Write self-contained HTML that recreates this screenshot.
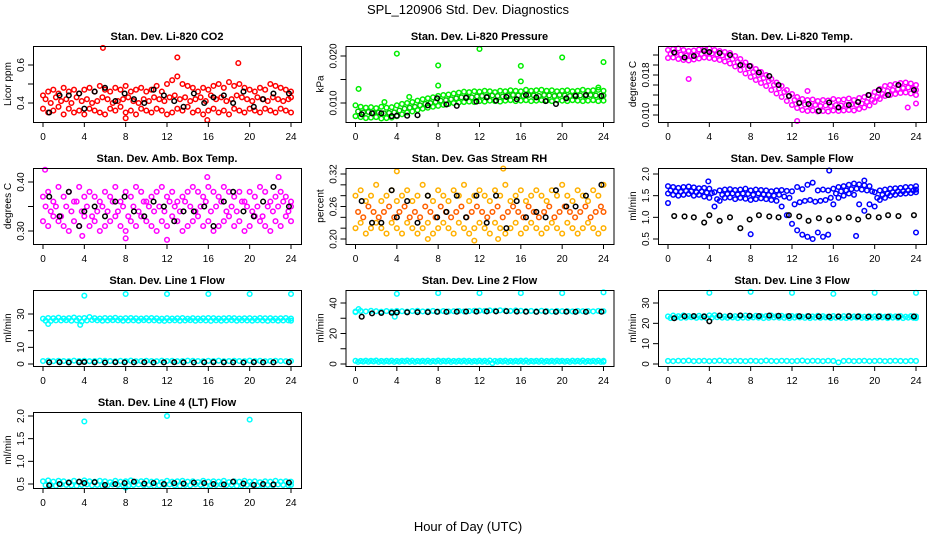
<!DOCTYPE html>
<html><head><meta charset="utf-8"><style>
html,body{margin:0;padding:0;background:#fff}
svg{display:block;font-family:"Liberation Sans",Arial,sans-serif}
</style></head><body>
<svg id="chart" width="936" height="540" viewBox="0 0 936 540" xmlns="http://www.w3.org/2000/svg">
<text x="468" y="14" font-size="13" text-anchor="middle">SPL_120906  Std. Dev. Diagnostics</text>
<text x="468" y="531" font-size="13" text-anchor="middle">Hour of Day (UTC)</text>
</svg>
<script>
// ---- data ----
const xTicks=[0,4,8,12,16,20,24];
const kHours=[0.6,1.6,2.5,3.5,4.0,5.0,6.0,7.0,7.9,8.8,9.8,10.7,11.7,12.7,13.6,14.6,15.6,16.5,17.5,18.4,19.4,20.4,21.3,22.3,23.8];
// CO2
const co2Hi=[0.44,0.46,0.47,0.45,0.48,0.46,0.47,0.45,0.47,0.48,0.46,0.49,0.47,0.46,0.48,0.47,0.49,0.46,0.47,0.48,0.46,0.47,0.49,0.46,0.50,0.52,0.54,0.50,0.49,0.48,0.46,0.48,0.47,0.49,0.50,0.48,0.51,0.49,0.50,0.48,0.47,0.46,0.48,0.47,0.50,0.49,0.48,0.47,0.46];
const co2Mid=[0.42,0.40,0.43,0.41,0.42,0.40,0.43,0.41,0.42,0.40,0.41,0.43,0.42,0.40,0.41,0.42,0.43,0.41,0.40,0.42,0.41,0.43,0.42,0.41,0.43,0.44,0.42,0.43,0.41,0.42,0.43,0.41,0.44,0.42,0.43,0.41,0.42,0.44,0.43,0.42,0.41,0.43,0.42,0.41,0.43,0.42,0.41,0.42,0.43];
const co2Lo=[0.37,0.35,0.36,0.38,0.34,0.37,0.35,0.36,0.34,0.37,0.36,0.35,0.34,0.37,0.36,0.38,0.35,0.36,0.34,0.37,0.36,0.35,0.37,0.36,0.34,0.35,0.37,0.36,0.38,0.35,0.36,0.34,0.36,0.37,0.35,0.36,0.34,0.37,0.36,0.35,0.37,0.36,0.35,0.37,0.36,0.35,0.37,0.36,0.35];
const co2K=[0.35,0.44,0.44,0.45,0.37,0.46,0.48,0.41,0.45,0.42,0.40,0.47,0.44,0.41,0.38,0.45,0.40,0.43,0.44,0.40,0.46,0.38,0.42,0.45,0.45];
const co2OutX=[5.8,13,18.9,8,15.9], co2OutY=[0.69,0.64,0.61,0.32,0.31];
// Pressure
const prHi=[0.0095,0.0092,0.0090,0.0091,0.0089,0.0092,0.0090,0.0091,0.0095,0.0098,0.0100,0.0102,0.0105,0.0108,0.0110,0.0112,0.0115,0.0117,0.0118,0.0120,0.0122,0.0124,0.0123,0.0125,0.0124,0.0126,0.0125,0.0123,0.0126,0.0125,0.0127,0.0126,0.0125,0.0128,0.0126,0.0127,0.0128,0.0126,0.0127,0.0125,0.0126,0.0127,0.0125,0.0126,0.0128,0.0126,0.0127,0.0128,0.0126];
const prMid=[0.0082,0.0080,0.0081,0.0079,0.0080,0.0078,0.0079,0.0080,0.0084,0.0088,0.0090,0.0092,0.0095,0.0098,0.0100,0.0102,0.0105,0.0106,0.0108,0.0110,0.0112,0.0113,0.0112,0.0114,0.0115,0.0114,0.0116,0.0115,0.0114,0.0116,0.0117,0.0116,0.0115,0.0117,0.0116,0.0115,0.0117,0.0116,0.0115,0.0117,0.0116,0.0115,0.0117,0.0116,0.0115,0.0117,0.0116,0.0115,0.0116];
const prLo=[0.0072,0.0070,0.0068,0.0069,0.0070,0.0067,0.0068,0.0069,0.0072,0.0076,0.0080,0.0082,0.0085,0.0088,0.0090,0.0092,0.0094,0.0096,0.0098,0.0100,0.0101,0.0102,0.0103,0.0102,0.0104,0.0103,0.0105,0.0104,0.0103,0.0105,0.0106,0.0104,0.0105,0.0106,0.0104,0.0105,0.0106,0.0105,0.0104,0.0106,0.0105,0.0104,0.0106,0.0105,0.0104,0.0105,0.0106,0.0104,0.0105];
const prK=[0.0076,0.0078,0.0078,0.0072,0.0073,0.0073,0.0074,0.0095,0.0110,0.0097,0.0094,0.0111,0.0103,0.0112,0.0105,0.0113,0.0108,0.0117,0.0112,0.0104,0.0098,0.0110,0.0115,0.0117,0.0115];
const prOutX=[0.3,4,5.2,8,8,12,16,16,20,24,23.5,2.8], prOutY=[0.0130,0.0205,0.0113,0.018,0.0137,0.0215,0.0179,0.0146,0.0197,0.0187,0.0133,0.0102];
// Li-820 temp
const ltHi=[0.0230,0.0232,0.0233,0.0230,0.0228,0.0229,0.0231,0.0232,0.0233,0.0230,0.0228,0.0226,0.0224,0.0218,0.0212,0.0205,0.0198,0.0192,0.0186,0.0180,0.0172,0.0165,0.0158,0.0150,0.0142,0.0136,0.0132,0.0130,0.0131,0.0128,0.0130,0.0129,0.0132,0.0130,0.0131,0.0133,0.0130,0.0134,0.0136,0.0140,0.0146,0.0152,0.0158,0.0160,0.0162,0.0164,0.0165,0.0163,0.0160];
const ltMid=[0.0222,0.0224,0.0221,0.0219,0.0218,0.0220,0.0222,0.0224,0.0223,0.0221,0.0219,0.0216,0.0212,0.0206,0.0200,0.0193,0.0186,0.0180,0.0174,0.0168,0.0160,0.0153,0.0146,0.0138,0.0130,0.0125,0.0121,0.0119,0.0120,0.0118,0.0119,0.0118,0.0120,0.0119,0.0120,0.0121,0.0120,0.0123,0.0126,0.0130,0.0136,0.0142,0.0148,0.0150,0.0152,0.0154,0.0155,0.0153,0.0150];
const ltLo=[0.0214,0.0215,0.0212,0.0210,0.0209,0.0211,0.0213,0.0215,0.0214,0.0212,0.0210,0.0207,0.0203,0.0197,0.0190,0.0183,0.0176,0.0170,0.0164,0.0158,0.0150,0.0143,0.0136,0.0128,0.0120,0.0114,0.0110,0.0108,0.0109,0.0107,0.0108,0.0107,0.0109,0.0108,0.0109,0.0110,0.0109,0.0112,0.0115,0.0119,0.0126,0.0132,0.0138,0.0140,0.0142,0.0144,0.0145,0.0143,0.0140];
const ltK=[0.0225,0.0215,0.0218,0.0228,0.0226,0.0224,0.0220,0.0200,0.0198,0.0185,0.0178,0.0160,0.0138,0.0124,0.0122,0.0108,0.0125,0.0115,0.0120,0.0126,0.0140,0.0150,0.0140,0.0160,0.0150];
const ltOutX=[2,13.5,12.5,23.2,24], ltOutY=[0.0172,0.0148,0.0088,0.0115,0.0123];
// Amb box temp
const abHi=[0.37,0.38,0.36,0.39,0.37,0.38,0.36,0.39,0.37,0.38,0.37,0.36,0.38,0.37,0.39,0.36,0.38,0.37,0.39,0.38,0.36,0.37,0.38,0.39,0.37,0.38,0.36,0.37,0.38,0.39,0.38,0.37,0.39,0.38,0.37,0.39,0.38,0.37,0.38,0.36,0.38,0.37,0.39,0.38,0.36,0.37,0.38,0.37,0.36];
const abMid=[0.35,0.34,0.35,0.33,0.35,0.34,0.36,0.34,0.35,0.33,0.34,0.35,0.34,0.36,0.34,0.35,0.33,0.35,0.34,0.36,0.35,0.34,0.35,0.34,0.36,0.35,0.34,0.36,0.35,0.34,0.35,0.36,0.34,0.35,0.36,0.34,0.35,0.34,0.36,0.35,0.34,0.35,0.33,0.35,0.34,0.35,0.36,0.34,0.35];
const abLo=[0.32,0.31,0.33,0.32,0.31,0.30,0.32,0.31,0.33,0.31,0.32,0.30,0.31,0.32,0.33,0.31,0.30,0.32,0.31,0.33,0.32,0.31,0.30,0.32,0.31,0.33,0.32,0.30,0.31,0.32,0.33,0.31,0.32,0.30,0.31,0.32,0.33,0.31,0.32,0.30,0.31,0.33,0.32,0.31,0.30,0.32,0.31,0.33,0.32];
const abK=[0.37,0.33,0.38,0.31,0.34,0.35,0.33,0.36,0.37,0.34,0.33,0.36,0.35,0.32,0.34,0.34,0.35,0.31,0.36,0.38,0.34,0.33,0.36,0.39,0.35];
const abOutX=[0.2,15.9,12,3.8,22.8,8], abOutY=[0.425,0.41,0.282,0.29,0.41,0.285];
// Gas stream RH
const rhHi=[0.28,0.29,0.27,0.28,0.30,0.27,0.28,0.29,0.27,0.28,0.29,0.27,0.28,0.30,0.28,0.27,0.29,0.28,0.27,0.29,0.28,0.30,0.27,0.28,0.29,0.28,0.27,0.29,0.28,0.30,0.27,0.28,0.29,0.27,0.28,0.29,0.28,0.27,0.29,0.28,0.30,0.28,0.27,0.29,0.28,0.27,0.29,0.28,0.30];
const rhMid=[0.25,0.24,0.26,0.25,0.24,0.25,0.26,0.24,0.25,0.26,0.24,0.25,0.24,0.26,0.25,0.24,0.26,0.25,0.24,0.25,0.26,0.24,0.25,0.26,0.25,0.24,0.25,0.26,0.24,0.25,0.26,0.25,0.24,0.26,0.25,0.24,0.25,0.26,0.24,0.25,0.26,0.25,0.24,0.25,0.26,0.24,0.25,0.26,0.25];
const rhLo=[0.22,0.23,0.21,0.22,0.23,0.22,0.21,0.23,0.22,0.21,0.23,0.22,0.21,0.22,0.23,0.21,0.22,0.23,0.22,0.21,0.23,0.22,0.21,0.22,0.23,0.22,0.21,0.23,0.22,0.21,0.22,0.23,0.21,0.22,0.23,0.22,0.21,0.22,0.23,0.22,0.21,0.23,0.22,0.21,0.22,0.23,0.22,0.21,0.22];
const rhK=[0.27,0.23,0.23,0.29,0.24,0.27,0.23,0.28,0.24,0.25,0.28,0.24,0.28,0.23,0.28,0.22,0.27,0.24,0.25,0.24,0.29,0.26,0.26,0.28,0.30];
const rhOutX=[4,14.3,11.5,13.8,7], rhOutY=[0.325,0.33,0.197,0.20,0.20];
// Sample flow
const sfHi=[1.72,1.70,1.68,1.70,1.71,1.69,1.67,1.68,1.66,1.58,1.62,1.64,1.65,1.63,1.64,1.66,1.62,1.64,1.63,1.62,1.60,1.62,1.63,1.61,1.60,1.70,1.65,1.75,1.80,1.62,1.64,1.62,1.66,1.70,1.72,1.75,1.78,1.76,1.74,1.72,1.58,1.62,1.64,1.66,1.67,1.68,1.70,1.70,1.72];
const sfMid=[1.62,1.60,1.59,1.61,1.60,1.58,1.60,1.57,1.56,1.42,1.52,1.54,1.55,1.53,1.55,1.54,1.52,1.55,1.53,1.52,1.50,1.52,1.48,1.45,1.30,1.35,1.38,1.40,1.36,1.38,1.40,1.45,1.55,1.60,1.62,1.65,1.66,1.64,1.62,1.60,1.45,1.52,1.55,1.58,1.60,1.60,1.62,1.62,1.64];
const sfLo=[1.55,1.52,1.50,1.52,1.54,1.50,1.52,1.48,1.45,1.25,1.38,1.45,1.46,1.42,1.45,1.43,1.40,1.42,1.44,1.42,1.40,1.38,1.25,1.05,0.85,0.70,0.60,0.55,0.50,0.65,0.55,0.60,1.30,1.45,1.50,1.55,1.52,1.30,1.15,1.30,1.25,1.40,1.45,1.50,1.52,1.54,1.55,1.56,1.58];
const sfK=[1.03,1.02,1.00,0.88,1.05,0.92,1.00,0.75,0.95,1.05,1.02,1.00,1.05,1.02,0.92,0.98,0.93,0.98,1.00,0.95,1.02,1.00,1.05,1.03,1.05];
const sfOutX=[0,3.9,8,15.6,18.2,24,19], sfOutY=[1.33,1.83,0.61,2.08,0.57,0.65,1.85];
// Line 1
const l1Hi=[27.2,27.6,27.4,27.8,27.3,27.5,27.9,27.4,27.6,28.2,27.5,27.3,27.6,27.4,27.7,27.3,27.5,27.6,27.4,27.3,27.5,27.6,27.4,27.2,27.5,27.3,27.4,27.6,27.2,27.5,27.3,27.4,27.6,27.5,27.3,27.4,27.6,27.5,27.3,27.4,27.5,27.3,27.6,27.4,27.5,27.3,27.4,27.6,27.3];
const l1Mid=[26.0,25.8,26.2,26.1,26.3,26.0,26.2,25.5,26.1,26.4,26.2,26.0,26.1,26.3,26.2,26.0,26.1,26.2,26.0,26.3,26.1,26.2,26.0,25.9,26.1,26.2,26.0,26.1,26.3,26.0,26.2,26.1,25.9,26.2,26.0,26.1,26.3,26.0,26.2,26.1,26.0,26.2,26.1,25.9,26.2,26.0,26.1,26.2,26.0];
const l1Lo=[1.8,2.0,1.7,1.9,1.8,1.7,2.0,1.8,1.9,1.7,1.8,2.0,1.9,1.8,1.7,1.9,1.8,2.0,1.7,1.8,1.9,1.8,1.7,2.0,1.8,1.9,1.7,1.8,2.0,1.9,1.8,1.7,1.9,1.8,2.0,1.7,1.8,1.9,1.8,1.7,2.0,1.8,1.9,1.7,1.8,1.9,1.8,1.7,1.8];
const l1K=[1.0,1.1,0.9,1.0,1.2,1.0,0.9,1.1,1.0,1.0,1.1,0.9,1.0,1.1,1.0,0.9,1.0,1.1,1.0,1.0,0.9,1.1,1.0,1.0,1.1];
const l1OutX=[4,8,12,16,20,24,0.5,3.6], l1OutY=[41,42,42,42,42,42,24,23.5];
// Line 2
const l2Hi=[34.4,34.8,34.5,34.9,34.6,34.3,34.7,34.5,34.8,34.6,34.4,34.7,34.9,34.5,34.6,34.8,34.4,34.7,34.5,34.6,34.8,34.5,34.7,34.9,35.0,34.8,35.1,34.9,35.2,35.0,34.8,35.1,34.9,34.7,34.8,34.6,34.9,34.7,34.5,34.8,34.6,34.7,34.5,34.8,34.6,34.7,34.5,34.8,34.6];
const l2Mid=[1.4,1.6,1.5,1.7,1.4,1.5,1.6,1.4,1.5,1.7,1.5,1.4,1.6,1.5,1.4,1.6,1.5,1.7,1.4,1.5,1.6,1.5,1.4,1.6,1.5,1.4,0.6,1.5,1.6,1.4,1.5,1.6,1.5,1.4,1.6,1.5,1.4,1.6,1.5,1.7,1.5,1.4,1.6,1.5,1.4,1.6,1.5,1.4,1.5];
const l2Lo=[2.1,2.0,2.2,2.1,2.3,2.0,2.1,2.2,2.0,2.1,2.3,2.2,2.0,2.1,2.2,2.0,2.3,2.1,2.2,2.0,2.1,2.2,2.1,2.0,2.2,2.1,2.3,2.0,2.1,2.2,2.0,2.1,2.2,2.3,2.0,2.1,2.2,2.0,2.1,2.2,2.1,2.0,2.2,2.1,2.3,2.0,2.1,2.2,2.1];
const l2K=[31.0,33.2,33.5,33.6,33.8,33.9,34.0,34.0,34.2,34.2,34.3,34.4,34.4,34.5,34.5,34.6,34.4,34.3,34.2,34.3,34.2,34.3,34.2,34.2,34.3];
const l2OutX=[4,8,12,16,20,24,0,0.3,3.8], l2OutY=[46,46.5,46.5,46.5,46.5,47,34,36,31];
// Line 3
const l3Hi=[23.4,23.8,23.5,23.9,23.6,23.3,23.7,23.5,23.9,24.0,23.6,23.4,23.7,23.5,23.6,23.8,23.4,23.7,23.5,23.6,23.8,23.5,23.7,23.4,23.6,23.5,23.3,23.6,23.4,23.7,23.5,23.3,23.6,23.4,23.5,23.7,23.4,23.6,23.3,23.5,23.4,23.6,23.3,23.5,23.4,23.6,23.3,23.5,23.4];
const l3Mid=[22.6,22.9,22.7,22.8,23.0,22.7,22.9,22.6,22.8,23.0,22.8,22.7,22.9,22.6,22.8,22.7,22.9,22.8,22.6,22.7,22.9,22.8,22.7,22.6,22.8,22.9,22.7,22.6,22.8,22.7,22.9,22.6,22.8,22.7,22.6,22.8,22.9,22.7,22.6,22.8,22.7,22.9,22.6,22.8,22.7,22.6,22.8,22.7,22.6];
const l3Lo=[1.5,1.4,1.6,1.5,1.7,1.4,1.5,1.6,1.4,1.5,1.7,1.5,1.4,1.6,1.5,1.4,1.6,1.5,1.4,1.7,1.5,1.4,1.6,1.5,1.4,1.5,1.7,1.4,1.6,1.5,1.4,1.6,1.5,0.8,1.5,1.6,1.4,1.5,1.6,1.4,1.5,1.6,1.4,1.5,1.6,1.5,1.4,1.6,1.5];
const l3K=[22.5,23.5,23.6,23.4,21.0,23.8,23.7,23.9,23.7,23.6,23.8,23.7,23.6,23.5,23.5,23.4,23.3,23.4,23.5,23.4,23.3,23.4,23.3,23.3,23.4];
const l3OutX=[4,8,12,16,20,24], l3OutY=[35,35.5,35,34.5,35,35];
// Line 4
const l4Hi=[0.56,0.58,0.55,0.57,0.56,0.54,0.57,0.55,0.58,0.56,0.55,0.57,0.56,0.54,0.57,0.55,0.56,0.58,0.55,0.56,0.57,0.55,0.56,0.54,0.57,0.55,0.56,0.57,0.55,0.56,0.54,0.57,0.55,0.56,0.55,0.57,0.54,0.56,0.55,0.57,0.55,0.56,0.54,0.56,0.55,0.57,0.55,0.56,0.55];
const l4Mid=[0.47,0.48,0.46,0.49,0.48,0.47,0.46,0.48,0.49,0.47,0.48,0.46,0.47,0.49,0.48,0.47,0.46,0.48,0.49,0.47,0.48,0.46,0.47,0.48,0.49,0.47,0.46,0.48,0.47,0.49,0.48,0.46,0.47,0.48,0.49,0.47,0.48,0.46,0.47,0.48,0.49,0.47,0.46,0.48,0.47,0.49,0.48,0.47,0.48];
const l4Lo=[];
const l4K=[0.47,0.50,0.53,0.55,0.52,0.54,0.48,0.50,0.52,0.55,0.51,0.52,0.50,0.52,0.51,0.53,0.52,0.50,0.49,0.55,0.51,0.48,0.50,0.49,0.53];
const l4OutX=[4,12,20,8], l4OutY=[1.88,2.0,1.92,0.42];

const panels=[
 {key:'co2',col:0,row:0,title:'Stan. Dev. Li-820 CO2',ylab:'Licor ppm',y0:0.4,p0:103,y1:0.6,p1:65,ticks:[0.4,0.5,0.6],labels:['0.4','','0.6'],cols:['#ff0000','#ff0000','#ff0000'],s:[co2Hi,co2Mid,co2Lo],k:co2K,ox:co2OutX,oy:co2OutY},
 {key:'pressure',col:1,row:0,title:'Stan. Dev. Li-820 Pressure',ylab:'kPa',y0:0.010,p0:103,y1:0.020,p1:56,ticks:[0.010,0.015,0.020],labels:['0.010','','0.020'],cols:['#00ee00','#00cc00','#00ee00'],s:[prHi,prMid,prLo],k:prK,ox:prOutX,oy:prOutY},
 {key:'li820-temp',col:2,row:0,title:'Stan. Dev. Li-820 Temp.',ylab:'degrees C',y0:0.010,p0:115,y1:0.018,p1:75,ticks:[0.010,0.012,0.014,0.016,0.018,0.020,0.022],labels:['0.010','','','','0.018','',''],cols:['#ff00ff','#ff00ff','#ff00ff'],s:[ltHi,ltMid,ltLo],k:ltK,ox:ltOutX,oy:ltOutY},
 {key:'amb-box-temp',col:0,row:1,title:'Stan. Dev. Amb. Box Temp.',ylab:'degrees C',y0:0.30,p0:231,y1:0.40,p1:182,ticks:[0.30,0.35,0.40],labels:['0.30','','0.40'],cols:['#ff00ff','#ff00ff','#ff00ff'],s:[abHi,abMid,abLo],k:abK,ox:abOutX,oy:abOutY},
 {key:'gas-stream-rh',col:1,row:1,title:'Stan. Dev. Gas Stream RH',ylab:'percent',y0:0.20,p0:239,y1:0.32,p1:174,ticks:[0.20,0.22,0.24,0.26,0.28,0.30,0.32],labels:['0.20','','','0.26','','','0.32'],cols:['#ffb000','#ff6000','#ffb000'],s:[rhHi,rhMid,rhLo],k:rhK,ox:rhOutX,oy:rhOutY},
 {key:'sample-flow',col:2,row:1,title:'Stan. Dev. Sample Flow',ylab:'ml/min',y0:0.5,p0:239,y1:2.0,p1:174,ticks:[0.5,1.0,1.5,2.0],labels:['0.5','1.0','1.5','2.0'],cols:['#0000ff','#0000ff','#0000ff'],s:[sfHi,sfMid,sfLo],k:sfK,ox:sfOutX,oy:sfOutY},
 {key:'line1-flow',col:0,row:2,title:'Stan. Dev. Line 1 Flow',ylab:'ml/min',y0:0,p0:364,y1:30,p1:314,ticks:[0,10,20,30],labels:['0','10','','30'],cols:['#00ffff','#00ffff','#00ffff'],s:[l1Hi,l1Mid,l1Lo],k:l1K,ox:l1OutX,oy:l1OutY},
 {key:'line2-flow',col:1,row:2,title:'Stan. Dev. Line 2 Flow',ylab:'ml/min',y0:0,p0:364,y1:40,p1:303,ticks:[0,10,20,30,40],labels:['0','','20','','40'],cols:['#00ffff','#00ffff','#00ffff'],s:[l2Hi,l2Mid,l2Lo],k:l2K,ox:l2OutX,oy:l2OutY},
 {key:'line3-flow',col:2,row:2,title:'Stan. Dev. Line 3 Flow',ylab:'ml/min',y0:0,p0:364,y1:30,p1:303,ticks:[0,10,20,30],labels:['0','10','20','30'],cols:['#00ffff','#00ffff','#00ffff'],s:[l3Hi,l3Mid,l3Lo],k:l3K,ox:l3OutX,oy:l3OutY},
 {key:'line4-flow',col:0,row:3,title:'Stan. Dev. Line 4 (LT) Flow',ylab:'ml/min',y0:0.5,p0:484,y1:2.0,p1:416,ticks:[0.5,1.0,1.5,2.0],labels:['0.5','1.0','1.5','2.0'],cols:['#00ffff','#00ffff','#00ffff'],s:[l4Hi,l4Mid,l4Lo],k:l4K,ox:l4OutX,oy:l4OutY}
];

const NS='http://www.w3.org/2000/svg';
const svg=document.getElementById('chart');
function mk(tag,attrs,parent){const e=document.createElementNS(NS,tag);for(const a in attrs)e.setAttribute(a,attrs[a]);parent.appendChild(e);return e;}

panels.forEach(p=>{
  const left=33+p.col*312.5, top=46+p.row*122, right=left+268, bottom=top+76;
  const xs=h=>left+10+h*(248/24);
  const ys=v=>p.p0+(v-p.y0)*(p.p1-p.p0)/(p.y1-p.y0);
  const g=mk('g',{},svg);
  
  
  const t=mk('text',{x:(left+right)/2,y:top-6,'font-size':'11','font-weight':'bold','text-anchor':'middle'},g);
  t.textContent=p.title;
  
  
  const yl=mk('text',{x:left-22,y:(top+bottom)/2,'font-size':'10','text-anchor':'middle',transform:`rotate(-90 ${left-22} ${(top+bottom)/2})`},g);
  yl.textContent=p.ylab;
  
  
  const pts=mk('g',{fill:'none','stroke-width':'1.5'},g);
  
  
  p.s.forEach((arr,si)=>{
    arr.forEach((v,i)=>{
      const h=i*0.5+(si===1?0.25:0);
      const c=mk('circle',{cx:xs(Math.min(h,24)),cy:ys(v),r:2.3,stroke:p.cols[si]},pts);
      
      
    });
  });
  p.ox.forEach((h,i)=>{
    const c=mk('circle',{cx:xs(h),cy:ys(p.oy[i]),r:2.3,stroke:p.cols[0]},pts);
    
    
  });
  p.k.forEach((v,i)=>{
    const c=mk('circle',{cx:xs(kHours[i]),cy:ys(v),r:2.3,stroke:'#000'},pts);
    
    
  });
  const b=mk('rect',{x:left+0.5,y:top+0.5,width:268,height:76,fill:'none',stroke:'#000','stroke-width':'1'},g);
  
  
  p.ticks.forEach((v,i)=>{
    const y=ys(v);
    const l=mk('line',{x1:left-5,x2:left,y1:y,y2:y,stroke:'#000'},g);
    
    
    if(p.labels[i]){
      const tx=mk('text',{x:left-9,y:y,'font-size':'10','text-anchor':'middle',transform:`rotate(-90 ${left-9} ${y})`},g);
      tx.textContent=p.labels[i];
      
      
    }
  });
  xTicks.forEach(h=>{
    const x=xs(h);
    const l=mk('line',{x1:x,x2:x,y1:bottom,y2:bottom+5,stroke:'#000'},g);
    
    
    const tx=mk('text',{x:x,y:bottom+18,'font-size':'10','text-anchor':'middle'},g);
    tx.textContent=String(h);
    
    
  });
});
</script>
</body></html>
